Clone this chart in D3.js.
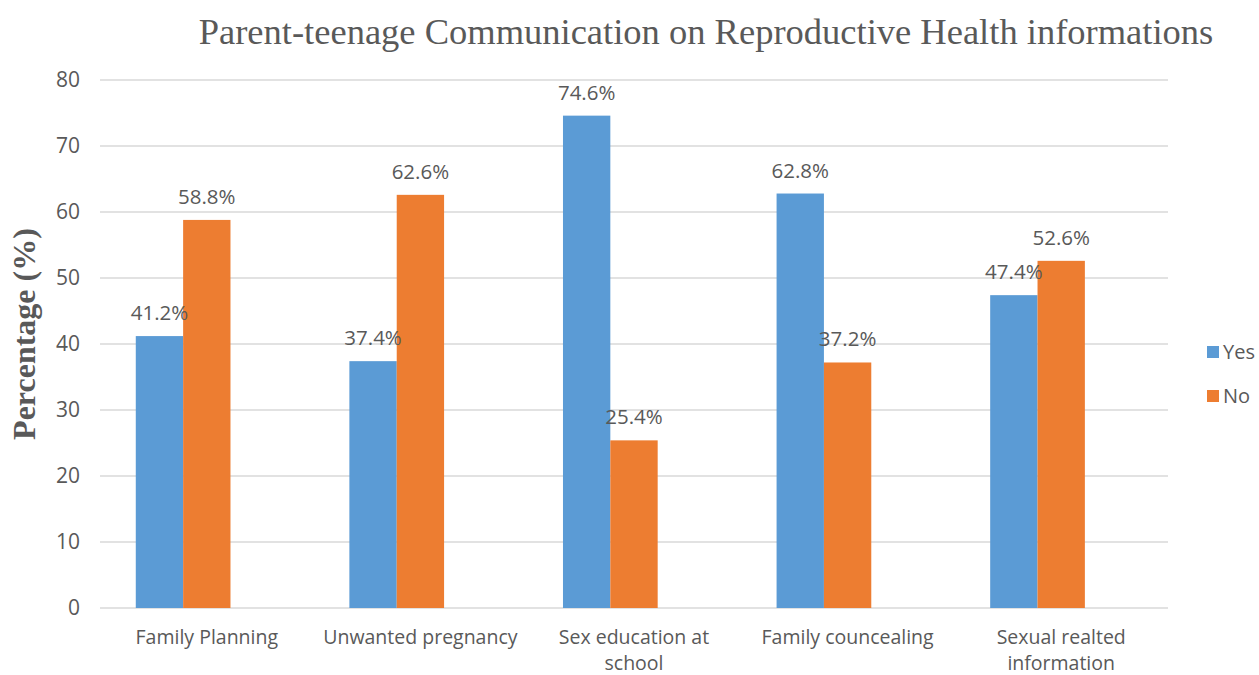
<!DOCTYPE html>
<html>
<head>
<meta charset="utf-8">
<script src="https://cdn.jsdelivr.net/npm/d3@7"></script>
<style>
  body { margin: 0; background: #fff; }
  svg text { fill: #595959; }
</style>
</head>
<body>
<svg id="chart"></svg>
<script>
const categories = [
  ['Family Planning'],
  ['Unwanted pregnancy'],
  ['Sex education at', 'school'],
  ['Family councealing'],
  ['Sexual realted', 'information'],
];
const seriesNames = ['Yes', 'No'];
const yesValues = [41.2, 37.4, 74.6, 62.8, 47.4];
const noValues = [58.8, 62.6, 25.4, 37.2, 52.6];
const yTicks = [0, 10, 20, 30, 40, 50, 60, 70, 80];
const colors = ['#5B9BD5', '#ED7D31'];

const W = 1259, H = 675;
const margin = { top: 80, right: 91, bottom: 67, left: 100 };
const innerW = W - margin.left - margin.right;
const innerH = H - margin.top - margin.bottom;
const FONT = 'Open Sans, sans-serif';

const svg = d3.select('#chart').attr('width', W).attr('height', H);
const g = svg.append('g').attr('transform', `translate(${margin.left},${margin.top})`);

const x = d3
  .scaleBand()
  .domain(d3.range(categories.length))
  .range([0, innerW])
  .paddingInner(0.335)
  .paddingOuter(0.1675);

// excel leaves room for a third (empty) slot in each cluster
const xs = d3
  .scaleBand()
  .domain(seriesNames)
  .range([0, (x.bandwidth() * 2) / 3]);

const y = d3.scaleLinear().domain([0, 80]).range([innerH, 0]);

// gridlines
g.append('g')
  .selectAll('line')
  .data(yTicks)
  .join('line')
  .attr('x1', 0)
  .attr('x2', innerW)
  .attr('y1', (d) => y(d))
  .attr('y2', (d) => y(d))
  .attr('stroke', '#D9D9D9')
  .attr('stroke-width', 1.3);

// y tick labels
g.append('g')
  .selectAll('text')
  .data(yTicks)
  .join('text')
  .attr('x', -20)
  .attr('y', (d) => y(d))
  .attr('dy', '0.35em')
  .attr('text-anchor', 'end')
  .attr('font-family', FONT)
  .attr('font-size', 21)
  .text((d) => d);

const rows = categories.map((c, i) => ({
  i,
  values: [yesValues[i], noValues[i]],
}));

const groups = g
  .selectAll('.grp')
  .data(rows)
  .join('g')
  .attr('class', 'grp')
  .attr('transform', (d) => `translate(${x(d.i)},0)`);

groups
  .selectAll('rect')
  .data((d) => d.values.map((v, k) => ({ key: seriesNames[k], v, k })))
  .join('rect')
  .attr('x', (d) => xs(d.key))
  .attr('width', xs.bandwidth())
  .attr('y', (d) => y(d.v))
  .attr('height', (d) => innerH - y(d.v))
  .attr('fill', (d) => colors[d.k]);

groups
  .selectAll('.lbl')
  .data((d) => d.values.map((v, k) => ({ key: seriesNames[k], v })))
  .join('text')
  .attr('class', 'lbl')
  .attr('x', (d) => xs(d.key) + xs.bandwidth() / 2)
  .attr('y', (d) => y(d.v) - 16)
  .attr('text-anchor', 'middle')
  .attr('font-family', FONT)
  .attr('font-size', 20.5)
  .text((d) => d.v.toFixed(1) + '%');

// category labels, one text per line
const step = x.step();
const catLines = categories.flatMap((lines, i) =>
  lines.map((t, j) => ({ t, i, j }))
);
g.append('g')
  .selectAll('text')
  .data(catLines)
  .join('text')
  .attr('x', (d) => step * (d.i + 0.5))
  .attr('y', (d) => innerH + 36 + d.j * 26)
  .attr('text-anchor', 'middle')
  .attr('font-family', FONT)
  .attr('font-size', 19.5)
  .text((d) => d.t);

// title
svg.append('text')
  .attr('x', 706)
  .attr('y', 44)
  .attr('text-anchor', 'middle')
  .attr('font-family', 'Liberation Serif, Times New Roman, serif')
  .attr('font-size', 36.5)
  .text('Parent-teenage Communication on Reproductive Health informations');

// y axis title
svg.append('text')
  .attr('transform', `translate(35,${margin.top + innerH / 2 - 10}) rotate(-90)`)
  .attr('text-anchor', 'middle')
  .attr('font-family', 'Liberation Serif, Times New Roman, serif')
  .attr('font-weight', 'bold')
  .attr('font-size', 32)
  .text('Percentage (%)');

// legend
const legend = svg
  .append('g')
  .selectAll('g')
  .data(seriesNames)
  .join('g')
  .attr('transform', (d, i) => `translate(1207,${352 + i * 44})`);
legend
  .append('rect')
  .attr('x', 0)
  .attr('y', -6)
  .attr('width', 12)
  .attr('height', 12)
  .attr('fill', (d, i) => colors[i]);
legend
  .append('text')
  .attr('x', 16)
  .attr('dy', '0.35em')
  .attr('font-family', FONT)
  .attr('font-size', 20)
  .text((d) => d);
</script>
</body>
</html>
